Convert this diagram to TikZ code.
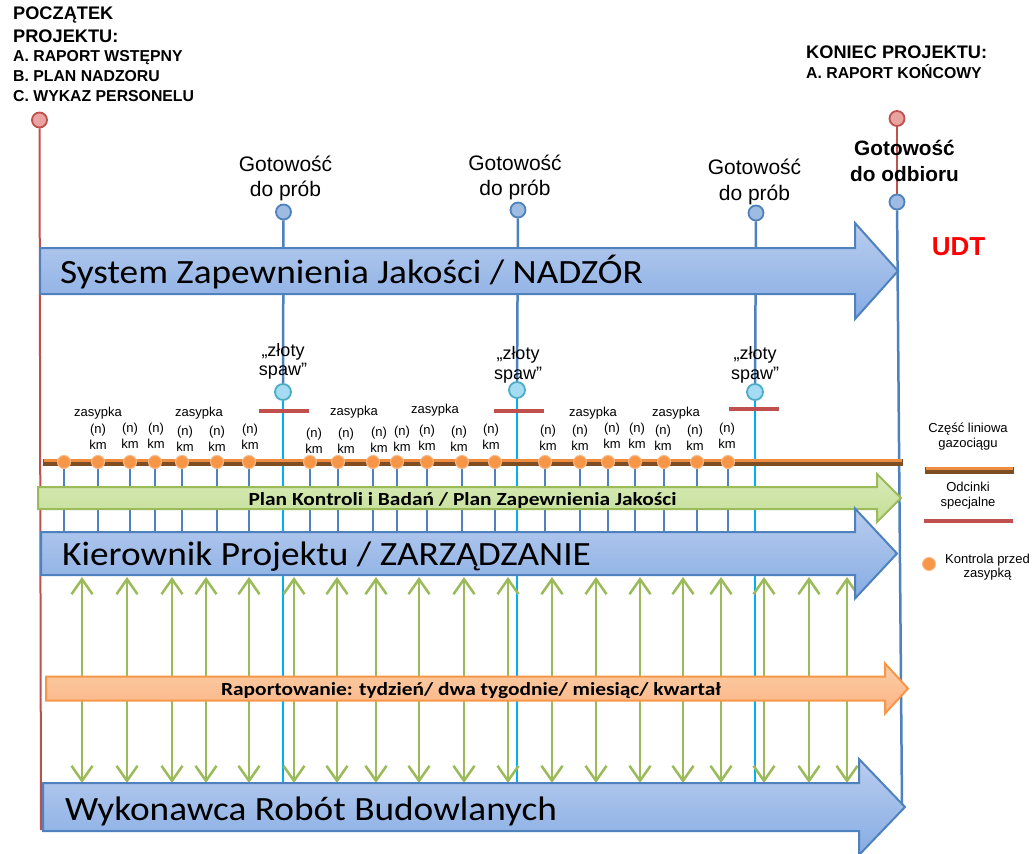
\documentclass[tikz,border=0pt]{standalone}
\usepackage{fontspec}
\usepackage{graphicx}
\setmainfont{Liberation Sans}
\newfontfamily\calibri{Carlito}
\usetikzlibrary{arrows.meta}
\definecolor{steel}{HTML}{4F81BD}
\definecolor{bluetop}{HTML}{B9CDEE}
\definecolor{bluebot}{HTML}{86ACE4}
\definecolor{greenb}{HTML}{9BBB59}
\definecolor{greentop}{HTML}{D9EBB9}
\definecolor{greenbot}{HTML}{C3DE96}
\definecolor{orangeb}{HTML}{F79646}
\definecolor{orangetop}{HTML}{FCCDA6}
\definecolor{orangebot}{HTML}{FAB484}
\definecolor{redl}{HTML}{C0504D}
\definecolor{redfill}{HTML}{E9A3A1}
\definecolor{cyanl}{HTML}{00B0F0}
\definecolor{cyanfill}{HTML}{A6DCF3}
\definecolor{cyanb}{HTML}{4BACC6}
\definecolor{gfill}{HTML}{9EBBE2}
\definecolor{pipebrown}{HTML}{7E4E22}
\definecolor{pipeor}{HTML}{EE8D42}
\definecolor{dotrim}{HTML}{FBB888}
\newcommand\barrow[7]{%
\path[#1] (#2,#5-#6) -- (#3,#5-#6) -- (#3,#5-#7) -- (#4,#5) -- (#3,#5+#7) -- (#3,#5+#6) -- (#2,#5+#6) -- cycle;}
\newcommand\hstretch[2]{\scalebox{#1}[1]{#2}}
\tikzset{
  bluearr/.style={draw=steel, line width=2pt, top color=bluetop, bottom color=bluebot},
  greenarr/.style={draw=greenb, line width=2pt, top color=greentop, bottom color=greenbot},
  orangearr/.style={draw=orangeb, line width=2pt, top color=orangetop, bottom color=orangebot},
  bigtxt/.style={font=\calibri\fontsize{34}{40}\selectfont, anchor=base west, inner sep=0},
  midtxt/.style={font=\calibri\bfseries\fontsize{18.5}{22}\selectfont, anchor=base, inner sep=0},
  tl1/.style={font=\bfseries\fontsize{18.2}{21}\selectfont, anchor=base west, inner sep=0},
  tl2/.style={font=\bfseries\fontsize{15.8}{18}\selectfont, anchor=base west, inner sep=0},
  gotl/.style={font=\fontsize{21}{24}\selectfont, anchor=base, inner sep=0},
  gotb/.style={font=\bfseries\fontsize{20.8}{24}\selectfont, anchor=base, inner sep=0},
  zlt/.style={font=\fontsize{18}{21}\selectfont, anchor=base, inner sep=0},
  lbl/.style={font=\fontsize{13}{15}\selectfont, anchor=base, inner sep=0},
  redc/.style={circle, draw=redl, fill=redfill, line width=1.8pt, minimum size=15pt, inner sep=0},
  bluec/.style={circle, draw=steel, fill=gfill, line width=1.8pt, minimum size=15pt, inner sep=0},
  cyanc/.style={circle, draw=cyanb, fill=cyanfill, line width=1.8pt, minimum size=16pt, inner sep=0},
  dot/.style={circle, draw=dotrim, fill=orangeb, line width=1pt, minimum size=13pt, inner sep=0},
  steelline/.style={draw=steel, line width=2.5pt},
  cyanline/.style={draw=cyanl, line width=2.7pt},
  redline/.style={draw=redl, line width=2pt},
  redbar/.style={draw=redl, line width=4pt},
  pipebase/.style={draw=pipebrown, line width=7pt},
  pipetop/.style={draw=pipeor, line width=3.5pt},
  garrow/.style={draw=greenb, line width=2.5pt, {Straight Barb[length=15pt,width=21pt]}-{Straight Barb[length=15pt,width=21pt]}},
}
\begin{document}
\begin{tikzpicture}[x=1pt,y=-1pt]
\useasboundingbox (0,0) rectangle (1032,853);
% start / end markers
\node[redc] (rs) at (39.5,120) {};
\coordinate (rsb) at (41,830);
\draw[redline] (rs) -- (rsb);
\node[redc] (re) at (897,118.5) {};
\node[bluec] (ge) at (897,202) {};
\coordinate (geb) at (902,807);
\draw[redline] (re) -- (ge);
\draw[steelline] (ge) -- (geb);
% milestone lines
\node[bluec] (g1) at (283.5,212) {};
\node[bluec] (g2) at (518,210) {};
\node[bluec] (g3) at (756,213) {};
\node[cyanc] (z1) at (283,392) {};
\node[cyanc] (z2) at (517,390) {};
\node[cyanc] (z3) at (755,392) {};
\draw[steelline] (g1) -- (z1);
\draw[steelline] (g2) -- (z2);
\draw[steelline] (g3) -- (z3);
\coordinate (z1b) at (283,832);
\coordinate (z2b) at (517,832);
\coordinate (z3b) at (755,832);
\draw[cyanline] (z1) -- (z1b);
\draw[cyanline] (z2) -- (z2b);
\draw[cyanline] (z3) -- (z3b);
% ticks under dots
\foreach \x [count=\i] in {64,98,130,155,182,217,249,310,338,373,397,427,462,495,545,580,608,635,664,697,728} {
  \coordinate (ta\i) at (\x,462);
  \coordinate (tb\i) at (\x,532);
  \draw[steelline] (ta\i) -- (tb\i);
}
% green double arrows
\foreach \x [count=\i] in {82,127,172,206,249,294,337,376,419,464,508,552,596,640,683,721,764,809,847} {
  \coordinate (ga\i) at (\x,577);
  \coordinate (gb\i) at (\x,783);
  \draw[garrow] (ga\i) -- (gb\i);
}
% big arrows
\barrow{bluearr}{40}{855}{898}{271}{23}{48}
\node[bigtxt] (t1) at (60,283) {\hstretch{1.097}{System Zapewnienia Jakości / NADZÓR}};
\barrow{greenarr}{38}{877}{901}{498}{11}{24}
\node[midtxt] (t2) at (462.5,505) {\hstretch{1.157}{Plan Kontroli i Badań / Plan Zapewnienia Jakości}};
\barrow{bluearr}{41}{855}{897}{553.5}{21.5}{45}
\node[bigtxt] (t3) at (62,565) {\hstretch{1.097}{Kierownik Projektu / ZARZĄDZANIE}};
\barrow{orangearr}{46}{885}{908}{688.5}{12}{25}
\node[midtxt] (t4) at (471,695) {\hstretch{1.157}{Raportowanie: tydzień/ dwa tygodnie/ miesiąc/ kwartał}};
\barrow{bluearr}{43}{859}{905}{807}{24}{48}
\node[bigtxt] (t5) at (65,820) {\hstretch{1.097}{Wykonawca Robót Budowlanych}};
% pipeline
\coordinate (pa) at (43,462);
\coordinate (pb) at (903,462);
\draw[pipebase] (pa) -- (pb);
\coordinate (pa2) at (44,460.5);
\coordinate (pb2) at (902,460.5);
\draw[pipetop] (pa2) -- (pb2);
\foreach \x [count=\i] in {64,98,130,155,182,217,249,310,338,373,397,427,462,495,545,580,608,635,664,697,728} {
  \node[dot] (d\i) at (\x,462) {};
}
% red bars (special sections)
\coordinate (r1a) at (259,411); \coordinate (r1b) at (309,411);
\coordinate (r2a) at (494,411); \coordinate (r2b) at (544,411);
\coordinate (r3a) at (729,409); \coordinate (r3b) at (779,409);
\draw[redbar] (r1a) -- (r1b);
\draw[redbar] (r2a) -- (r2b);
\draw[redbar] (r3a) -- (r3b);
% (n) km labels
\foreach \x/\y [count=\i] in {98/433.5,130/432.5,156/432.5,185/435.5,217/435.5,250/433.5,314/437.5,346/437.5,379/436.5,402/435.5,427/434.5,459/435.5,491/433.5,548/434.5,580/434.5,612/432.5,637/432.5,663/434.5,695/434.5,727/432.5} {
  \node[lbl] (n\i) at (\x,\y) {(n)};
  \node[lbl] (k\i) at (\x,\y+15.5) {km};
}
\node[lbl] (zs1) at (98,416.5) {zasypka};
\node[lbl] (zs2) at (199,416.5) {zasypka};
\node[lbl] (zs3) at (354,415.5) {zasypka};
\node[lbl] (zs4) at (435,413) {zasypka};
\node[lbl] (zs5) at (593,416) {zasypka};
\node[lbl] (zs6) at (676,416) {zasypka};
% złoty spaw labels
\node[zlt] (zl1) at (283,356) {„złoty};
\node[zlt] (zp1) at (283,375.5) {spaw”};
\node[zlt] (zl2) at (518,359) {„złoty};
\node[zlt] (zp2) at (518,379) {spaw”};
\node[zlt] (zl3) at (755,359) {„złoty};
\node[zlt] (zp3) at (755,379) {spaw”};
% Gotowość labels
\node[gotl] (go1) at (285.5,171.7) {Gotowość};
\node[gotl] (gd1) at (285.5,196.7) {do prób};
\node[gotl] (go2) at (515,170.7) {Gotowość};
\node[gotl] (gd2) at (515,195.2) {do prób};
\node[gotl] (go3) at (754.5,175) {Gotowość};
\node[gotl] (gd3) at (754.5,200) {do prób};
\node[gotb] (go4) at (904.5,156) {Gotowość};
\node[gotb] (gd4) at (904.5,181.5) {do odbioru};
% UDT
\node[font=\bfseries\fontsize{26}{30}\selectfont, text={rgb,255:red,255;green,0;blue,0}, anchor=base, inner sep=0] (udt) at (958.5,255) {UDT};
% header texts
\node[tl1] (p1) at (13,20) {POCZĄTEK};
\node[tl1] (p2) at (13,42.7) {PROJEKTU:};
\node[tl2] (p3) at (13,62) {A. RAPORT WSTĘPNY};
\node[tl2] (p4) at (13,82) {B. PLAN NADZORU};
\node[tl2] (p5) at (13,101.7) {C. WYKAZ PERSONELU};
\node[tl1] (k1) at (806,58.3) {KONIEC PROJEKTU:};
\node[tl2] (k2) at (806,78.3) {A. RAPORT KOŃCOWY};
% legend
\node[lbl] (lg1) at (968,432.7) {Część liniowa};
\node[lbl] (lg2) at (968,447.5) {gazociągu};
\coordinate (lpa) at (925,470); \coordinate (lpb) at (1014,470);
\draw[pipebase] (lpa) -- (lpb);
\coordinate (lpa2) at (926,468.5); \coordinate (lpb2) at (1013,468.5);
\draw[pipetop] (lpa2) -- (lpb2);
\node[lbl] (lg3) at (968,491.7) {Odcinki};
\node[lbl] (lg4) at (968,506.3) {specjalne};
\coordinate (lra) at (924,521); \coordinate (lrb) at (1013,521);
\draw[redbar] (lra) -- (lrb);
\node[dot] (ld) at (929,564) {};
\node[lbl] (lg5) at (987.5,563) {Kontrola przed};
\node[lbl] (lg6) at (987.5,577.7) {zasypką};
\end{tikzpicture}
\end{document}
